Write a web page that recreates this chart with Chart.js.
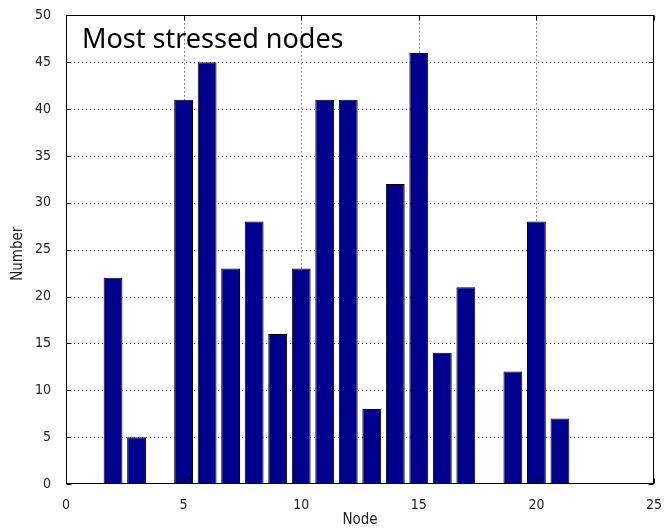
<!DOCTYPE html>
<html>
<head>
<meta charset="utf-8">
<script src="https://cdn.jsdelivr.net/npm/chart.js@4/dist/chart.umd.min.js"></script>
<style>
  html, body { margin: 0; padding: 0; background: #ffffff; }
  #wrap { width: 667px; height: 530px; position: relative; }
</style>
</head>
<body>
<div id="wrap"><canvas id="c" width="667" height="530"></canvas></div>
<script>
// Count of stress events per node
const nodes  = [2, 3, 4, 5, 6, 7, 8, 9, 10, 11, 12, 13, 14, 15, 16, 17, 18, 19, 20, 21];
const counts = [22, 5, 0, 41, 45, 23, 28, 16, 23, 41, 41, 8, 32, 46, 14, 21, 0, 12, 28, 7];

const xTicks = [0, 5, 10, 15, 20, 25];
const yTicks = [0, 5, 10, 15, 20, 25, 30, 35, 40, 45, 50];

const chartTitle = 'Most stressed nodes';
const xLabel = 'Node';
const yLabel = 'Number';

const axisFont = '"Liberation Sans Narrow", "DejaVu Sans Condensed", "Liberation Sans", sans-serif';

// Dotted grid under the bars, then the box, inward ticks and text on top
const matlabAxes = {
  id: 'matlabAxes',
  beforeDatasetsDraw(chart) {
    const { ctx, chartArea: a, scales: { x, y } } = chart;
    ctx.save();
    ctx.strokeStyle = '#333333';
    ctx.lineWidth = 1;
    ctx.setLineDash([1, 3]);
    xTicks.slice(1, -1).forEach(v => {
      const px = Math.round(x.getPixelForValue(v)) + 0.5;
      ctx.beginPath(); ctx.moveTo(px, a.top); ctx.lineTo(px, a.bottom); ctx.stroke();
    });
    yTicks.slice(1, -1).forEach(v => {
      const py = Math.round(y.getPixelForValue(v)) + 0.5;
      ctx.beginPath(); ctx.moveTo(a.left, py); ctx.lineTo(a.right, py); ctx.stroke();
    });
    ctx.restore();
  },
  afterDatasetsDraw(chart) {
    const { ctx, chartArea: a, scales: { x, y } } = chart;
    const L = Math.round(a.left) + 0.5, R = Math.round(a.right) - 0.5;
    const T = Math.round(a.top) + 0.5, B = Math.round(a.bottom) - 0.5;
    const tl = 5;
    ctx.save();
    ctx.strokeStyle = '#000000';
    ctx.lineWidth = 1;
    ctx.setLineDash([]);
    ctx.strokeRect(L, T, R - L, B - T);
    ctx.beginPath();
    xTicks.forEach(v => {
      const px = Math.round(x.getPixelForValue(v)) + 0.5;
      ctx.moveTo(px, B); ctx.lineTo(px, B - tl);
      ctx.moveTo(px, T); ctx.lineTo(px, T + tl);
    });
    yTicks.forEach(v => {
      const py = Math.round(y.getPixelForValue(v)) + 0.5;
      ctx.moveTo(L, py); ctx.lineTo(L + tl, py);
      ctx.moveTo(R, py); ctx.lineTo(R - tl, py);
    });
    ctx.stroke();

    // in-axes title
    ctx.fillStyle = '#000000';
    ctx.font = '27px "Noto Sans", "Open Sans", sans-serif';
    ctx.textAlign = 'left';
    ctx.textBaseline = 'alphabetic';
    ctx.fillText(chartTitle, a.left + 16, a.top + 33);

    // axis labels
    ctx.fillStyle = '#222222';
    ctx.font = '15px ' + axisFont;
    ctx.textAlign = 'center';
    ctx.textBaseline = 'middle';
    ctx.fillText(xLabel, (a.left + a.right) / 2, 520);
    ctx.translate(18, (a.top + a.bottom) / 2 + 4);
    ctx.rotate(-Math.PI / 2);
    ctx.fillText(yLabel, 0, 0);
    ctx.restore();
  }
};

new Chart(document.getElementById('c'), {
  type: 'bar',
  data: {
    datasets: [{
      data: nodes.map((n, i) => ({ x: n, y: counts[i] })),
      backgroundColor: '#00008C',
      borderColor: '#000000',
      borderWidth: 1,
      borderSkipped: false,
      barPercentage: 0.8,
      categoryPercentage: 1.0
    }]
  },
  options: {
    responsive: false,
    animation: false,
    events: [],
    layout: { padding: { left: 0, top: 14, right: 8, bottom: 0 } },
    plugins: { legend: { display: false }, tooltip: { enabled: false }, title: { display: false } },
    scales: {
      x: {
        type: 'linear',
        min: 0, max: 25,
        offset: false,
        afterFit(s) { s.height = 46; },
        afterBuildTicks(s) { s.ticks = xTicks.map(v => ({ value: v })); },
        grid: { display: false, offset: false },
        border: { display: false },
        ticks: { color: '#222222', padding: 5, maxRotation: 0, autoSkip: false,
                 font: { family: axisFont, size: 14 } }
      },
      y: {
        min: 0, max: 50,
        afterFit(s) { s.width = 66; },
        afterBuildTicks(s) { s.ticks = yTicks.map(v => ({ value: v })); },
        grid: { display: false },
        border: { display: false },
        ticks: { color: '#222222', padding: 7, autoSkip: false,
                 font: { family: axisFont, size: 14 } }
      }
    }
  },
  plugins: [matlabAxes]
});
</script>
</body>
</html>
